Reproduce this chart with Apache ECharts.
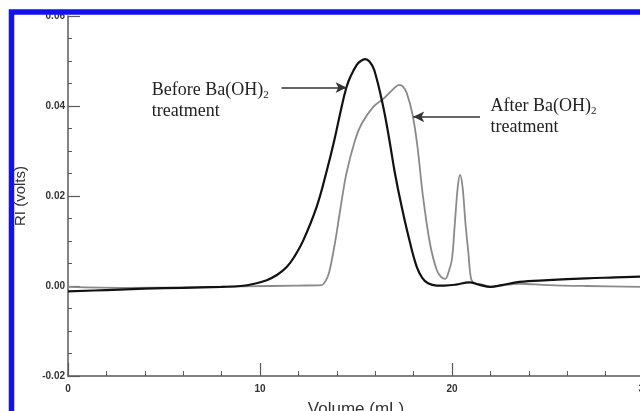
<!DOCTYPE html>
<html>
<head>
<meta charset="utf-8">
<script src="https://cdn.jsdelivr.net/npm/echarts@6/dist/echarts.min.js"></script>
<style>
  html, body { margin: 0; padding: 0; background: #fff; }
  #chart { width: 640px; height: 411px; }
</style>
</head>
<body>
<div id="chart"></div>
<script>
// GPC traces: refractive-index detector signal vs elution volume
const beforeVol = [0, 2, 4, 6, 8, 9, 9.7, 10.35, 10.9, 11.39, 11.8, 12.26, 12.95, 13.44, 13.87, 14.25, 14.5, 14.72, 15.03, 15.25, 15.47, 15.7, 15.95, 16.42, 16.74, 17.03, 17.38, 17.78, 18.16, 18.45, 18.75, 19.2, 19.6, 20.2, 20.9, 21.4, 22.0, 22.6, 23.5, 25, 27, 28.5, 30];
const beforeRI  = [-0.0012, -0.0009, -0.0006, -0.0004, -0.0002, 0.0000, 0.0005, 0.0013, 0.0025, 0.0042, 0.0066, 0.0102, 0.0176, 0.0250, 0.0324, 0.0398, 0.0441, 0.0466, 0.0491, 0.0500, 0.0504, 0.0499, 0.0480, 0.0398, 0.0324, 0.0250, 0.0176, 0.0102, 0.0043, 0.0018, 0.0006, 0.0001, 0.0001, 0.0003, 0.0008, 0.0003, -0.0002, 0.0002, 0.0009, 0.0013, 0.0017, 0.0019, 0.0021];

const afterVol = [0, 3, 6, 9, 12, 13.2, 13.4, 13.6, 13.9, 14.2, 14.5, 14.95, 15.3, 15.9, 16.4, 16.9, 17.25, 17.45, 17.65, 17.95, 18.2, 18.5, 18.85, 19.2, 19.45, 19.65, 19.85, 20.0, 20.15, 20.3, 20.42, 20.55, 20.7, 20.85, 21.0, 21.2, 21.6, 22.0, 22.5, 23.5, 25, 27, 30];
const afterRI  = [-0.0002, -0.0004, -0.0003, -0.0001, 0.0001, 0.0002, 0.0010, 0.0030, 0.0095, 0.0175, 0.0250, 0.0324, 0.0361, 0.0398, 0.0415, 0.0436, 0.0447, 0.0443, 0.0428, 0.0380, 0.0310, 0.0195, 0.0095, 0.0036, 0.0019, 0.0016, 0.0035, 0.0060, 0.0140, 0.0220, 0.0247, 0.0220, 0.0140, 0.0075, 0.0015, 0.0006, 0.0003, -0.0002, 0.0001, 0.0005, 0.0002, 0.0000, -0.0002];

// axis ranges and tick labels
const xTicks = [0, 10, 20, 30];
const yTicks = ['-0.02', '0.00', '0.02', '0.04', '0.06'];

// annotation arrows: [fromVol, fromRI, toVol, toRI]
const beforeArrow = [11.12, 0.0441, 14.51, 0.0441];
const afterArrow  = [21.46, 0.0376, 17.98, 0.0376];

const zip = (xs, ys) => xs.map((x, i) => [x, ys[i]]);

const chart = echarts.init(document.getElementById('chart'), null, { renderer: 'canvas' });

const axisColor = '#5a5a5a';
const arrowLine = (a) => ({
  silent: true,
  animation: false,
  symbol: ['none', 'arrow'],
  symbolSize: [8, 11],
  lineStyle: { color: '#333', width: 1.5, type: 'solid' },
  label: { show: false },
  emphasis: { disabled: true },
  data: [[{ coord: [a[0], a[1]] }, { coord: [a[2], a[3]] }]]
});

chart.setOption({
  animation: false,
  backgroundColor: '#fff',
  grid: { left: 68, top: 16, width: 576, height: 360, containLabel: false, outerBoundsMode: 'none' },
  xAxis: {
    type: 'value',
    min: xTicks[0], max: xTicks[xTicks.length - 1], interval: 10,
    name: 'Volume (mL)',
    nameLocation: 'middle',
    nameGap: 25,
    nameTextStyle: { fontFamily: 'Liberation Sans', fontSize: 17, color: '#333' },
    axisLine: { onZero: false, lineStyle: { color: axisColor, width: 1.5 } },
    axisTick: { inside: true, length: 13, lineStyle: { color: axisColor, width: 1.2 } },
    minorTick: { show: true, splitNumber: 5, length: 5, lineStyle: { color: axisColor, width: 1 } },
    splitLine: { show: false },
    axisLabel: { margin: 8, fontFamily: 'Liberation Sans', fontWeight: 'bold', fontSize: 10, color: '#333' }
  },
  yAxis: {
    type: 'value',
    min: Number(yTicks[0]), max: Number(yTicks[yTicks.length - 1]), interval: 0.02,
    name: 'RI (volts)',
    nameLocation: 'middle',
    nameGap: 40,
    nameRotate: 90,
    nameTextStyle: { fontFamily: 'Liberation Sans', fontSize: 15, color: '#333' },
    axisLine: { show: true, onZero: false, lineStyle: { color: axisColor, width: 1.5 } },
    axisTick: { show: true, inside: true, length: 12, lineStyle: { color: axisColor, width: 1.2 } },
    minorTick: { show: true, splitNumber: 4, length: 4, lineStyle: { color: axisColor, width: 1 } },
    splitLine: { show: false },
    axisLabel: {
      margin: 3, fontFamily: 'Liberation Sans', fontWeight: 'bold', fontSize: 10, color: '#333',
      formatter: (v) => yTicks.find(t => Math.abs(Number(t) - v) < 1e-9) || v.toFixed(2)
    }
  },
  series: [
    {
      name: 'After Ba(OH)2 treatment',
      type: 'line',
      data: zip(afterVol, afterRI),
      showSymbol: false,
      smooth: 0.35,
      lineStyle: { color: '#8a8a8a', width: 1.8 },
      z: 2,
      markLine: arrowLine(afterArrow)
    },
    {
      name: 'Before Ba(OH)2 treatment',
      type: 'line',
      data: zip(beforeVol, beforeRI),
      showSymbol: false,
      smooth: 0.4,
      lineStyle: { color: '#111', width: 2.2 },
      z: 3,
      markLine: arrowLine(beforeArrow)
    }
  ]
});

// annotation text placed in data coordinates
const rich = {
  m: { fontFamily: 'Liberation Serif', fontSize: 18, lineHeight: 21, fill: '#222' },
  s: { fontFamily: 'Liberation Serif', fontSize: 11, lineHeight: 11, verticalAlign: 'bottom', fill: '#222' }
};
const notes = [
  { at: [4.36, 0.0458], text: '{m|Before Ba(OH)}{s|2}\n{m|treatment}' },
  { at: [22.01, 0.0423], text: '{m|After Ba(OH)}{s|2}\n{m|treatment}' }
];
const graphics = notes.map(n => {
  const p = chart.convertToPixel({ gridIndex: 0 }, n.at);
  return {
    type: 'text', x: p[0], y: p[1], z: 50, silent: true,
    style: { text: n.text, rich: rich, fill: '#222', align: 'left', verticalAlign: 'top' }
  };
});
// blue frame around the figure
graphics.push({
  type: 'rect', z: 100, silent: true,
  shape: { x: 11.5, y: 12, width: 1000, height: 1000 },
  style: { fill: 'none', stroke: '#1212f0', lineWidth: 5.5 }
});
chart.setOption({ graphic: graphics });
</script>
</body>
</html>
